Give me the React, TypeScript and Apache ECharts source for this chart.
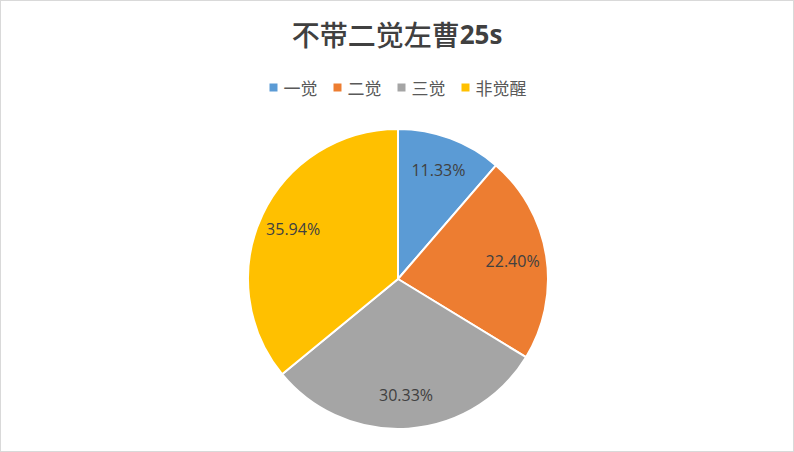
import React, { useEffect, useRef } from "react";
import * as echarts from "echarts";

const categories = ["一觉", "二觉", "三觉", "非觉醒"];
const shares = [11.33, 22.4, 30.33, 35.94];
const colors = ["#5B9BD5", "#ED7D31", "#A5A5A5", "#FFC000"];

const App: React.FC = () => {
  const chartRef = useRef<HTMLDivElement>(null);

  useEffect(() => {
    if (!chartRef.current) return;
    const chart = echarts.init(chartRef.current, undefined, { renderer: "svg" });

    const data = categories.map((name, i) => ({
      name,
      value: shares[i],
      itemStyle: { color: colors[i] },
    }));

    chart.setOption({
      animation: false,
      title: {
        text: "{a|不带二觉左曹}{b|25s}",
        left: "center",
        top: 14,
        textStyle: {
          rich: {
            a: {
              fontFamily: "Noto Sans CJK SC",
              fontSize: 28,
              fontWeight: 500,
              color: "#404040",
            },
            b: {
              fontFamily: "Open Sans",
              fontSize: 26,
              fontWeight: "bold",
              color: "#404040",
            },
          },
        },
      },
      legend: {
        data: categories,
        top: 73,
        left: "center",
        icon: "rect",
        itemWidth: 10,
        itemHeight: 10,
        itemGap: 14,
        textStyle: {
          fontFamily: "Noto Sans CJK SC",
          fontSize: 17,
          color: "#595959",
        },
      },
      series: [
        {
          type: "pie",
          center: [397, 278],
          radius: 150,
          startAngle: 90,
          clockwise: true,
          silent: true,
          data,
          itemStyle: { borderColor: "#ffffff", borderWidth: 2 },
          label: { show: false },
          labelLine: { show: false },
        },
        {
          // transparent ring used only to place labels at ~0.75 of the radius
          type: "pie",
          center: [397, 278],
          radius: 226,
          startAngle: 90,
          clockwise: true,
          silent: true,
          legendHoverLink: false,
          data: data.map((d) => ({ ...d, itemStyle: { color: "transparent" } })),
          itemStyle: { color: "transparent", borderWidth: 0 },
          label: {
            show: true,
            position: "inside",
            formatter: (p: any) => p.value.toFixed(2) + "%",
            fontFamily: "Open Sans",
            fontSize: 16,
            color: "#404040",
          },
          labelLine: { show: false },
        },
      ],
    });

    return () => {
      chart.dispose();
    };
  }, []);

  return (
    <div
      style={{
        position: "absolute",
        left: 0,
        top: 0,
        width: 794,
        height: 452,
        boxSizing: "border-box",
        border: "1px solid #d9d9d9",
        background: "#ffffff",
      }}
    >
      <div ref={chartRef} style={{ width: 792, height: 450 }} />
    </div>
  );
};

export default App;
